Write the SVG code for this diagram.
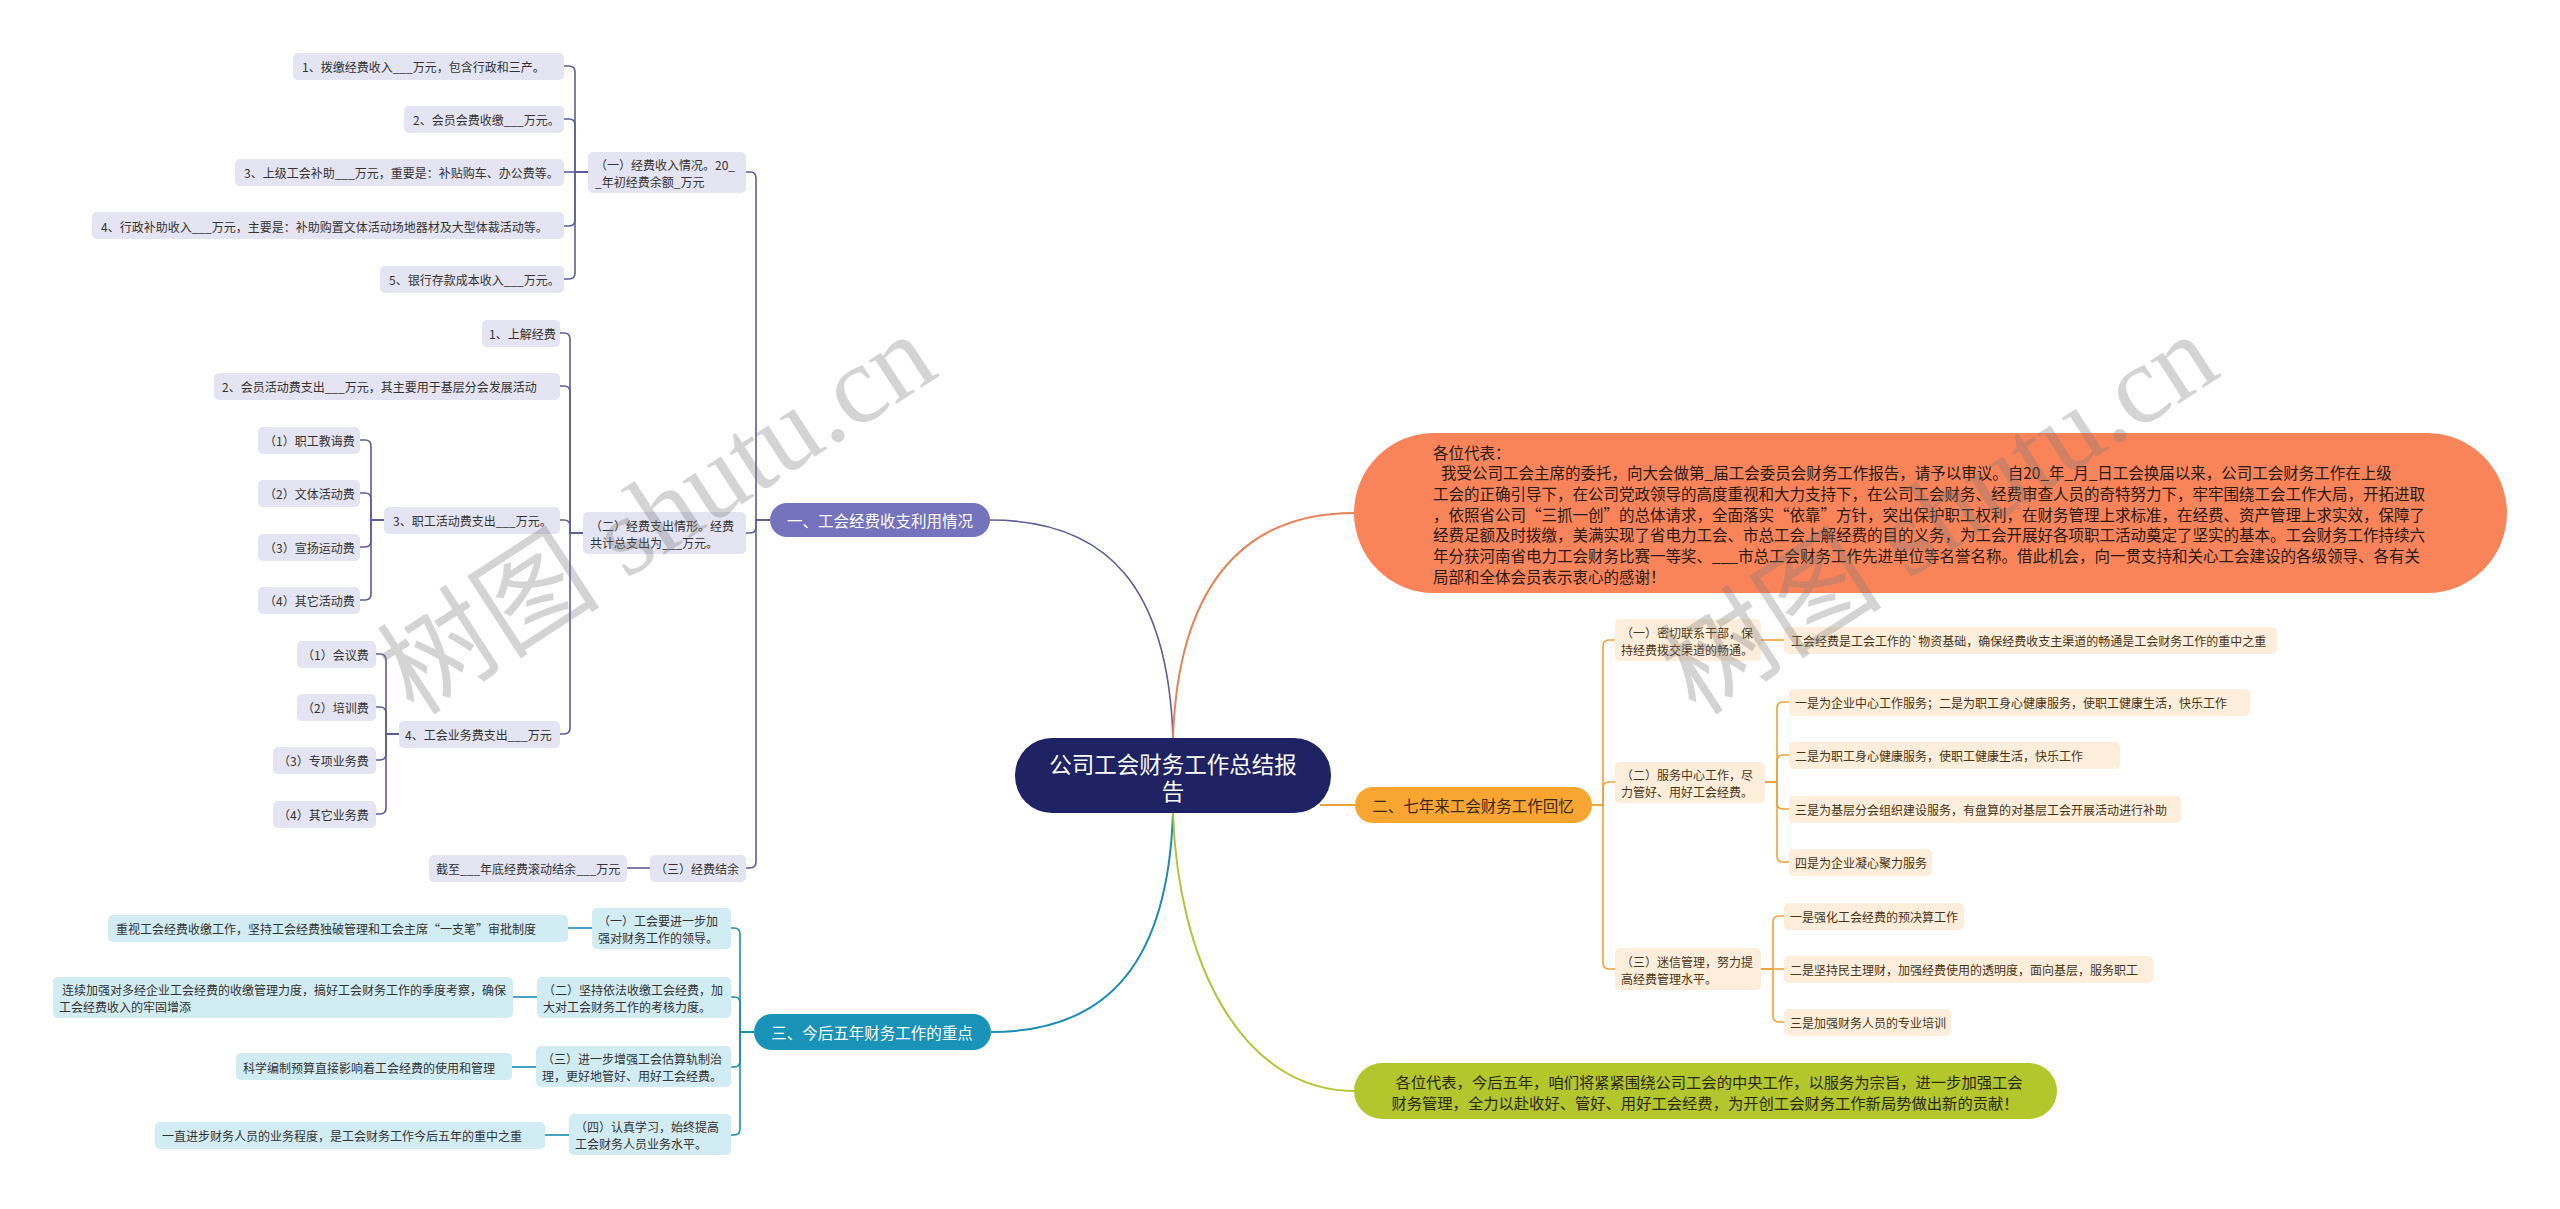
<svg xmlns="http://www.w3.org/2000/svg" width="2560" height="1209" viewBox="0 0 2560 1209">
<style>
text{font-family:"Noto Sans CJK SC","Noto Sans",sans-serif;dominant-baseline:central}
.s{font-size:12px;fill:#333}
.so{font-size:12px;fill:#4a3418}
.m{text-anchor:middle}
.pf{fill:#E5E4F2}
.of{fill:#FDEEDB}
.tf{fill:#D2ECF4}
.cp{fill:none;stroke:#5F5C9B;stroke-width:1.6}
.co{fill:none;stroke:#EFA235;stroke-width:1.6}
.ct{fill:none;stroke:#1A8DB4;stroke-width:1.6}
.b{font-size:15.5px}
.wm{font-family:"Liberation Serif","Noto Sans CJK SC",serif;font-size:112px;fill:#7a7a7a;fill-opacity:0.32;text-anchor:middle}
</style>
<rect width="2560" height="1209" fill="#fff"/>

<g id="connectors">
<path class="cp" d="M1173 738 C1168 590 1110 520 990 520" stroke-width="2"/>
<path d="M1173 738 C1178 590 1240 513 1354 513" fill="none" stroke="#E8835A" stroke-width="2"/>
<path d="M1320 805 H1355" fill="none" stroke="#EFA235" stroke-width="2"/>
<path d="M1173 813 C1168 960 1110 1032 991 1032" fill="none" stroke="#1A8DB4" stroke-width="2"/>
<path d="M1173 813 C1178 960 1240 1091 1355 1091" fill="none" stroke="#B3C530" stroke-width="2"/>

<path class="cp" d="M770 520 H756 V178 Q756 172 750 172 H746"/>
<path class="cp" d="M770 520 H756 V527 Q756 533 750 533 H746"/>
<path class="cp" d="M770 520 H756 V862 Q756 868 750 868 H746"/>

<path class="cp" d="M588 172 H575 V72 Q575 66 569 66 H564"/>
<path class="cp" d="M588 172 H575 V125 Q575 119 569 119 H564"/>
<path class="cp" d="M588 172 H564"/>
<path class="cp" d="M588 172 H575 V220 Q575 226 569 226 H564"/>
<path class="cp" d="M588 172 H575 V273 Q575 279 569 279 H564"/>

<path class="cp" d="M583 533 H570 V339 Q570 333 564 333 H560"/>
<path class="cp" d="M583 533 H570 V392 Q570 386 564 386 H560"/>
<path class="cp" d="M583 533 H570 V526 Q570 520 564 520 H560"/>
<path class="cp" d="M583 533 H570 V728 Q570 734 564 734 H560"/>

<path class="cp" d="M384 520 H371 V446 Q371 440 365 440 H360"/>
<path class="cp" d="M384 520 H371 V499 Q371 493 365 493 H360"/>
<path class="cp" d="M384 520 H371 V541 Q371 547 365 547 H360"/>
<path class="cp" d="M384 520 H371 V594 Q371 600 365 600 H360"/>

<path class="cp" d="M399 734 H386 V660 Q386 654 380 654 H376"/>
<path class="cp" d="M399 734 H386 V713 Q386 707 380 707 H376"/>
<path class="cp" d="M399 734 H386 V754 Q386 760 380 760 H376"/>
<path class="cp" d="M399 734 H386 V808 Q386 814 380 814 H376"/>

<path class="cp" d="M650 868 H627"/>

<path class="ct" d="M754 1032 H740 V934 Q740 928 734 928 H731"/>
<path class="ct" d="M754 1032 H740 V1003 Q740 997 734 997 H731"/>
<path class="ct" d="M754 1032 H740 V1061 Q740 1067 734 1067 H731"/>
<path class="ct" d="M754 1032 H740 V1129 Q740 1135 734 1135 H731"/>
<path class="ct" d="M592 928 H568"/>
<path class="ct" d="M537 997 H513"/>
<path class="ct" d="M536 1067 H512"/>
<path class="ct" d="M569 1135 H545"/>

<path class="co" d="M1592 805 H1603 V646 Q1603 640 1609 640 H1615"/>
<path class="co" d="M1592 805 H1603 V788 Q1603 782 1609 782 H1615"/>
<path class="co" d="M1592 805 H1603 V963 Q1603 969 1609 969 H1615"/>
<path class="co" d="M1761 640 H1784"/>
<path class="co" d="M1765 782 H1777 V708 Q1777 702 1783 702 H1789"/>
<path class="co" d="M1765 782 H1777 V761 Q1777 755 1783 755 H1789"/>
<path class="co" d="M1765 782 H1777 V803 Q1777 809 1783 809 H1789"/>
<path class="co" d="M1765 782 H1777 V856 Q1777 862 1783 862 H1789"/>
<path class="co" d="M1761 969 H1773 V922 Q1773 916 1779 916 H1784"/>
<path class="co" d="M1761 969 H1784"/>
<path class="co" d="M1761 969 H1773 V1016 Q1773 1022 1779 1022 H1784"/>
</g>

<g id="center">
<rect x="1015" y="738" width="316" height="75" rx="37" fill="#1F2364"/>
<text x="1173" y="763" class="m" font-size="22.5" fill="#fff">公司工会财务工作总结报</text>
<text x="1173" y="790" class="m" font-size="22.5" fill="#fff">告</text>
</g>

<g id="b1">
<rect x="770" y="503" width="220" height="34" rx="17" fill="#7573BD"/>
<text x="880" y="520" class="m b" fill="#fff">一、工会经费收支利用情况</text>
</g>
<g id="b2">
<rect x="1355" y="787" width="237" height="36" rx="18" fill="#F9A532"/>
<text x="1473" y="805" class="m b" fill="#3a2a10">二、七年来工会财务工作回忆</text>
</g>
<g id="b3">
<rect x="754" y="1014" width="237" height="36" rx="18" fill="#1A93B8"/>
<text x="872" y="1032" class="m b" fill="#fff">三、今后五年财务工作的重点</text>
</g>
<g id="intro">
<rect x="1354" y="433" width="1153" height="160" rx="80" fill="#F9845A"/>
<g font-size="15.5" fill="#2a1a10">
<text x="1433" y="452">各位代表：</text>
<text x="1441" y="472">我受公司工会主席的委托，向大会做第_届工会委员会财务工作报告，请予以审议。自20_年_月_日工会换届以来，公司工会财务工作在上级</text>
<text x="1433" y="493">工会的正确引导下，在公司党政领导的高度重视和大力支持下，在公司工会财务、经费审查人员的奇特努力下，牢牢围绕工会工作大局，开拓进取</text>
<text x="1433" y="514">，依照省公司“三抓一创”的总体请求，全面落实“依靠”方针，突出保护职工权利，在财务管理上求标准，在经费、资产管理上求实效，保障了</text>
<text x="1433" y="534">经费足额及时拨缴，美满实现了省电力工会、市总工会上解经费的目的义务，为工会开展好各项职工活动奠定了坚实的基本。工会财务工作持续六</text>
<text x="1433" y="555">年分获河南省电力工会财务比赛一等奖、___市总工会财务工作先进单位等名誉名称。借此机会，向一贯支持和关心工会建设的各级领导、各有关</text>
<text x="1433" y="576">局部和全体会员表示衷心的感谢！</text>
</g>
</g>
<g id="closing">
<rect x="1354" y="1063" width="703" height="56" rx="28" fill="#B3C62C"/>
<text x="1709" y="1081" class="m" font-size="15.3" fill="#2a2a10">各位代表，今后五年，咱们将紧紧围绕公司工会的中央工作，以服务为宗旨，进一步加强工会</text>
<text x="1705" y="1102" class="m" font-size="15.3" fill="#2a2a10">财务管理，全力以赴收好、管好、用好工会经费，为开创工会财务工作新局势做出新的贡献！</text>
</g>

<g id="p1"><rect class="pf" x="588" y="152" width="158" height="41" rx="5"/><text class="s" x="595" y="164">（一）经费收入情况。20_</text><text class="s" x="595" y="181">_年初经费余额_万元</text></g>
<g id="p1a"><rect class="pf" x="293" y="53" width="271" height="27" rx="5"/><text class="s" x="302" y="66">1、拨缴经费收入___万元，包含行政和三产。</text></g>
<g id="p1b"><rect class="pf" x="404" y="106" width="160" height="27" rx="5"/><text class="s" x="413" y="119">2、会员会费收缴___万元。</text></g>
<g id="p1c"><rect class="pf" x="235" y="159" width="329" height="27" rx="5"/><text class="s" x="244" y="172">3、上级工会补助___万元，重要是：补贴购车、办公费等。</text></g>
<g id="p1d"><rect class="pf" x="92" y="212" width="472" height="27" rx="5"/><text class="s" x="101" y="226">4、行政补助收入___万元，主要是：补助购置文体活动场地器材及大型体裁活动等。</text></g>
<g id="p1e"><rect class="pf" x="380" y="266" width="184" height="27" rx="5"/><text class="s" x="389" y="279">5、银行存款成本收入___万元。</text></g>

<g id="p2"><rect class="pf" x="583" y="512" width="163" height="42" rx="5"/><text class="s" x="590" y="525">（二）经费支出情形。经费</text><text class="s" x="590" y="542">共计总支出为___万元。</text></g>
<g id="p2a"><rect class="pf" x="482" y="320" width="78" height="27" rx="5"/><text class="s" x="489" y="333">1、上解经费</text></g>
<g id="p2b"><rect class="pf" x="214" y="373" width="346" height="27" rx="5"/><text class="s" x="222" y="386">2、会员活动费支出___万元，其主要用于基层分会发展活动</text></g>
<g id="p2c"><rect class="pf" x="384" y="507" width="176" height="27" rx="5"/><text class="s" x="393" y="520">3、职工活动费支出___万元。</text></g>
<g id="p2c1"><rect class="pf" x="258" y="427" width="102" height="27" rx="5"/><text class="s" x="264" y="440">（1）职工教诲费</text></g>
<g id="p2c2"><rect class="pf" x="258" y="480" width="102" height="27" rx="5"/><text class="s" x="264" y="493">（2）文体活动费</text></g>
<g id="p2c3"><rect class="pf" x="258" y="534" width="102" height="27" rx="5"/><text class="s" x="264" y="547">（3）宣扬运动费</text></g>
<g id="p2c4"><rect class="pf" x="258" y="587" width="102" height="27" rx="5"/><text class="s" x="264" y="600">（4）其它活动费</text></g>
<g id="p2d"><rect class="pf" x="399" y="721" width="161" height="27" rx="5"/><text class="s" x="405" y="734">4、工会业务费支出___万元</text></g>
<g id="p2d1"><rect class="pf" x="297" y="641" width="79" height="27" rx="5"/><text class="s" x="302" y="654">（1）会议费</text></g>
<g id="p2d2"><rect class="pf" x="297" y="694" width="79" height="27" rx="5"/><text class="s" x="302" y="707">（2）培训费</text></g>
<g id="p2d3"><rect class="pf" x="273" y="747" width="103" height="27" rx="5"/><text class="s" x="278" y="760">（3）专项业务费</text></g>
<g id="p2d4"><rect class="pf" x="273" y="801" width="103" height="27" rx="5"/><text class="s" x="278" y="814">（4）其它业务费</text></g>
<g id="p3"><rect class="pf" x="650" y="855" width="96" height="27" rx="5"/><text class="s" x="655" y="868">（三）经费结余</text></g>
<g id="p3a"><rect class="pf" x="429" y="855" width="198" height="27" rx="5"/><text class="s" x="436" y="868">截至___年底经费滚动结余___万元</text></g>

<g id="t1"><rect class="tf" x="592" y="908" width="139" height="41" rx="5"/><text class="s" x="598" y="920">（一）工会要进一步加</text><text class="s" x="598" y="937">强对财务工作的领导。</text></g>
<g id="t1a"><rect class="tf" x="108" y="915" width="460" height="27" rx="5"/><text class="s" x="116" y="928">重视工会经费收缴工作，坚持工会经费独破管理和工会主席“一支笔”审批制度</text></g>
<g id="t2"><rect class="tf" x="537" y="977" width="194" height="41" rx="5"/><text class="s" x="543" y="989">（二）坚持依法收缴工会经费，加</text><text class="s" x="543" y="1006">大对工会财务工作的考核力度。</text></g>
<g id="t2a"><rect class="tf" x="53" y="977" width="460" height="41" rx="5"/><text class="s" x="62" y="989">连续加强对多经企业工会经费的收缴管理力度，搞好工会财务工作的季度考察，确保</text><text class="s" x="59" y="1006">工会经费收入的牢固增添</text></g>
<g id="t3"><rect class="tf" x="536" y="1046" width="195" height="41" rx="5"/><text class="s" x="542" y="1058">（三）进一步增强工会估算轨制治</text><text class="s" x="542" y="1075">理，更好地管好、用好工会经费。</text></g>
<g id="t3a"><rect class="tf" x="236" y="1053" width="276" height="27" rx="5"/><text class="s" x="243" y="1067">科学编制预算直接影响着工会经费的使用和管理</text></g>
<g id="t4"><rect class="tf" x="569" y="1114" width="162" height="41" rx="5"/><text class="s" x="575" y="1126">（四）认真学习，始终提高</text><text class="s" x="575" y="1143">工会财务人员业务水平。</text></g>
<g id="t4a"><rect class="tf" x="155" y="1122" width="390" height="27" rx="5"/><text class="s" x="162" y="1135">一直进步财务人员的业务程度，是工会财务工作今后五年的重中之重</text></g>

<g id="o1"><rect class="of" x="1615" y="619" width="146" height="42" rx="5"/><text class="so" x="1621" y="632">（一）密切联系干部，保</text><text class="so" x="1621" y="649">持经费拨交渠道的畅通。</text></g>
<g id="o1a"><rect class="of" x="1784" y="627" width="493" height="27" rx="5"/><text class="so" x="1791" y="640">工会经费是工会工作的`物资基础，确保经费收支主渠道的畅通是工会财务工作的重中之重</text></g>
<g id="o2"><rect class="of" x="1615" y="762" width="150" height="41" rx="5"/><text class="so" x="1621" y="774">（二）服务中心工作，尽</text><text class="so" x="1621" y="791">力管好、用好工会经费。</text></g>
<g id="o2a"><rect class="of" x="1789" y="689" width="461" height="27" rx="5"/><text class="so" x="1795" y="702">一是为企业中心工作服务；二是为职工身心健康服务，使职工健康生活，快乐工作</text></g>
<g id="o2b"><rect class="of" x="1789" y="742" width="331" height="27" rx="5"/><text class="so" x="1795" y="755">二是为职工身心健康服务，使职工健康生活，快乐工作</text></g>
<g id="o2c"><rect class="of" x="1789" y="796" width="392" height="27" rx="5"/><text class="so" x="1795" y="809">三是为基层分会组织建设服务，有盘算的对基层工会开展活动进行补助</text></g>
<g id="o2d"><rect class="of" x="1789" y="849" width="143" height="27" rx="5"/><text class="so" x="1795" y="862">四是为企业凝心聚力服务</text></g>
<g id="o3"><rect class="of" x="1615" y="948" width="146" height="42" rx="5"/><text class="so" x="1621" y="961">（三）迷信管理，努力提</text><text class="so" x="1621" y="978">高经费管理水平。</text></g>
<g id="o3a"><rect class="of" x="1784" y="903" width="180" height="27" rx="5"/><text class="so" x="1790" y="916">一是强化工会经费的预决算工作</text></g>
<g id="o3b"><rect class="of" x="1784" y="956" width="369" height="27" rx="5"/><text class="so" x="1790" y="969">二是坚持民主理财，加强经费使用的透明度，面向基层，服务职工</text></g>
<g id="o3c"><rect class="of" x="1784" y="1009" width="167" height="27" rx="5"/><text class="so" x="1790" y="1022">三是加强财务人员的专业培训</text></g>

<g id="watermark">
<text class="wm" transform="translate(657 514) rotate(-33)">树图 shutu.cn</text>
<text class="wm" transform="translate(1939 514) rotate(-33)">树图 shutu.cn</text>
</g>
</svg>
